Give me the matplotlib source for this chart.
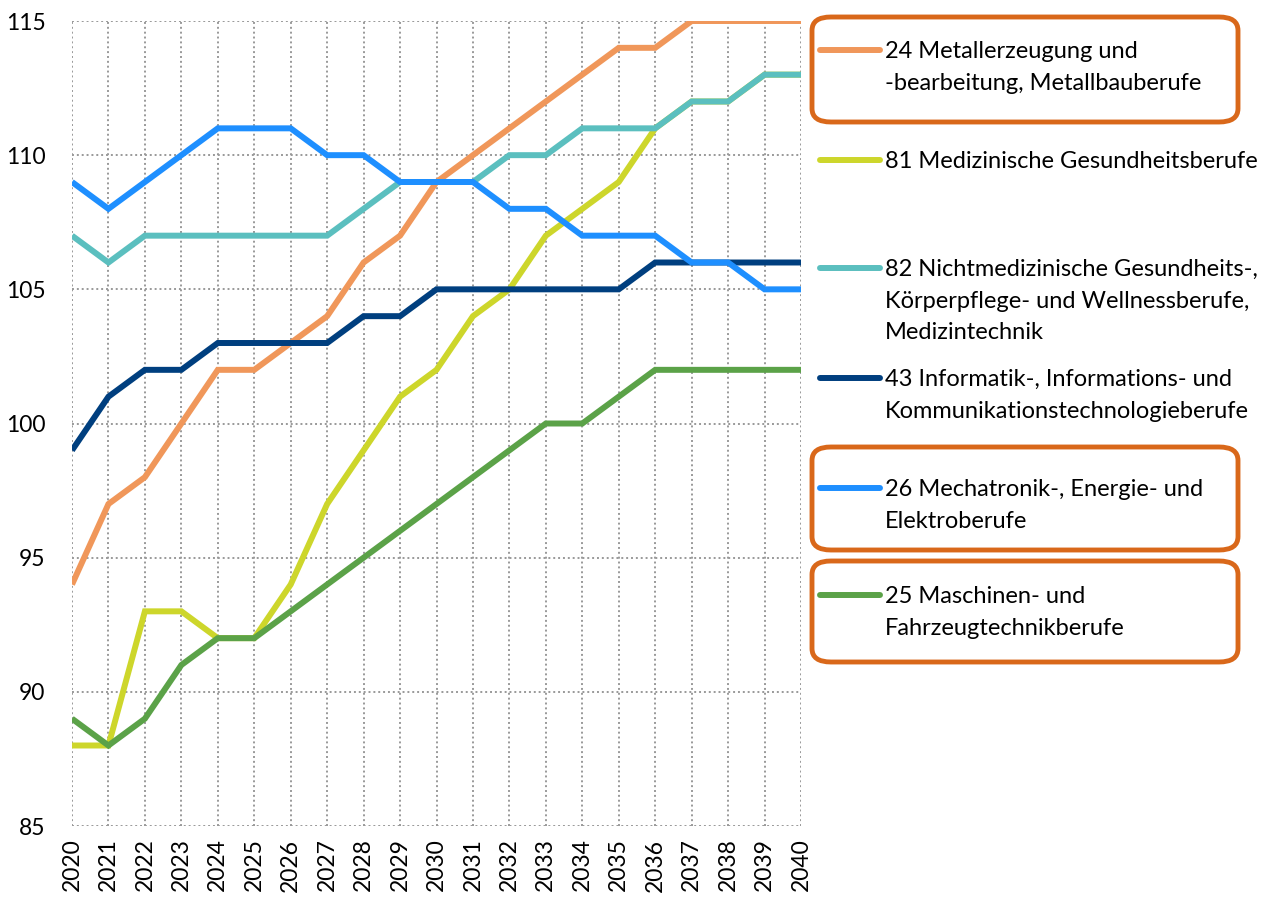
import matplotlib
matplotlib.use("Agg")
import matplotlib.pyplot as plt
from matplotlib.patches import FancyBboxPatch
from matplotlib.lines import Line2D

plt.rcParams['font.family'] = ['Lato', 'DejaVu Sans']

years = list(range(2020, 2041))

metall = [94, 97, 98, 100, 102, 102, 103, 104, 106, 107, 109, 110, 111, 112, 113, 114, 114, 115, 115, 115, 115]
medizin = [88, 88, 93, 93, 92, 92, 94, 97, 99, 101, 102, 104, 105, 107, 108, 109, 111, 112, 112, 113, 113]
nichtmed = [107, 106, 107, 107, 107, 107, 107, 107, 108, 109, 109, 109, 110, 110, 111, 111, 111, 112, 112, 113, 113]
informatik = [99, 101, 102, 102, 103, 103, 103, 103, 104, 104, 105, 105, 105, 105, 105, 105, 106, 106, 106, 106, 106]
mechatronik = [109, 108, 109, 110, 111, 111, 111, 110, 110, 109, 109, 109, 108, 108, 107, 107, 107, 106, 106, 105, 105]
maschinen = [89, 88, 89, 91, 92, 92, 93, 94, 95, 96, 97, 98, 99, 100, 100, 101, 102, 102, 102, 102, 102]

labels = [
    "24 Metallerzeugung und\n-bearbeitung, Metallbauberufe",
    "81 Medizinische Gesundheitsberufe",
    "82 Nichtmedizinische Gesundheits-,\nKörperpflege- und Wellnessberufe,\nMedizintechnik",
    "43 Informatik-, Informations- und\nKommunikationstechnologieberufe",
    "26 Mechatronik-, Energie- und\nElektroberufe",
    "25 Maschinen- und\nFahrzeugtechnikberufe",
]
series = [metall, medizin, nichtmed, informatik, mechatronik, maschinen]
colors = ["#F0975A", "#CDD62B", "#5BBFBF", "#003F7F", "#1E8FFF", "#5BA248"]

fig = plt.figure(figsize=(12.62, 8.97), dpi=100)
ax = fig.add_axes([72/1262, 71/897, (801-72)/1262, (826-21)/897])

for vals, c in zip(series, colors):
    ax.plot(years, vals, color=c, lw=4.3, solid_joinstyle='miter', solid_capstyle='butt')

ax.set_xlim(2020, 2040)
ax.set_ylim(85, 115)
ax.set_xticks(years)
ax.set_xticklabels([str(y) for y in years], rotation=90, fontsize=16.5)
ax.set_yticks([85, 90, 95, 100, 105, 110, 115])
ax.tick_params(axis='y', labelsize=16.5, length=0, pad=19)
ax.tick_params(axis='x', length=0, pad=9)
for s in ax.spines.values():
    s.set_visible(False)
ax.grid(True, color="#999999", linestyle=(0, (1, 1.5)), lw=1.4)
ax.set_axisbelow(True)

# legend entries (figure pixel coordinates converted)
W, H = 1262, 897
entry_y = [50, 160, 268, 378, 488, 595]
for lab, c, yy in zip(labels, colors, entry_y):
    fy = 1 - yy / H
    fig.add_artist(Line2D([820/W, 880/W], [fy, fy], color=c, lw=4.3, solid_capstyle='round'))
    fig.text(885/W, 1 - (yy - 9) / H, lab, fontsize=17, va='top', ha='left',
             linespacing=1.63, transform=fig.transFigure)

# highlight boxes
boxes = [(812, 17, 1238, 122), (812, 447, 1238, 550), (812, 561, 1238, 662)]
for x0, y0, x1, y1 in boxes:
    p = FancyBboxPatch((x0/W, 1 - y1/H), (x1-x0)/W, (y1-y0)/H,
                       boxstyle="round,pad=0,rounding_size=0.015",
                       transform=fig.transFigure, fill=False,
                       edgecolor="#D9681A", lw=3.5)
    fig.add_artist(p)

fig.savefig("out.png", dpi=100)
